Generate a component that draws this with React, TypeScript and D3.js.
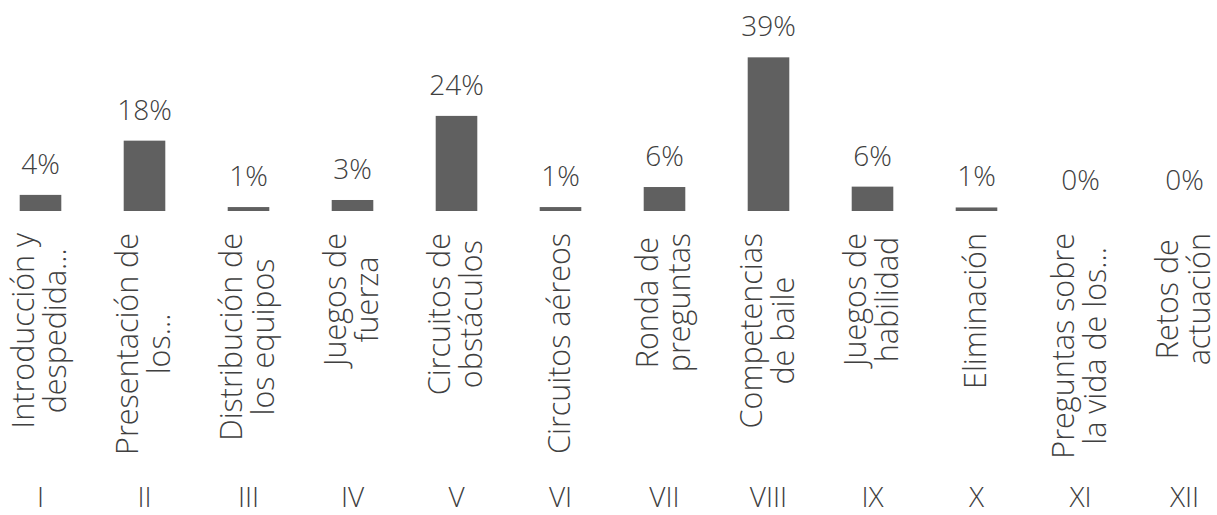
import React from "react";
import * as d3 from "d3";

const romanNumerals = ["I", "II", "III", "IV", "V", "VI", "VII", "VIII", "IX", "X", "XI", "XII"];
const categoryLines: string[][] = [
  ["Introducción y", "despedida..."],
  ["Presentación de", "los..."],
  ["Distribución de", "los equipos"],
  ["Juegos de", "fuerza"],
  ["Circuitos de", "obstáculos"],
  ["Circuitos aéreos"],
  ["Ronda de", "preguntas"],
  ["Competencias", "de baile"],
  ["Juegos de", "habilidad"],
  ["Eliminación"],
  ["Preguntas sobre", "la vida de los..."],
  ["Retos de", "actuación"],
];
const percentValues = [4.1, 17.9, 1.0, 2.8, 24.2, 1.0, 6.1, 39.1, 6.2, 0.9, 0, 0];

const W = 1217;
const H = 515;
const FONT = "'Open Sans', 'DejaVu Sans', sans-serif";
const FS_CAT = 30.5;
const FS_VAL = 28;
const FS_NUM = 28;
const WEIGHT = 300;
const TEXT = "#404040";
const BAR = "#606060";

function measure(s: string): number {
  const c = document.createElement("canvas");
  const ctx = c.getContext("2d")!;
  ctx.font = `${WEIGHT} ${FS_CAT}px ${FONT}`;
  return ctx.measureText(s).width;
}

export default function App() {
  const idx = romanNumerals.map((_, i) => String(i));
  const x = d3.scaleBand<string>().domain(idx).range([-11.5, 1236.5]).paddingInner(0.6).paddingOuter(0.3);
  const y = d3.scaleLinear().domain([0, 40]).range([211, 211 - 157.2]);
  const fmt = (v: number) => `${Math.round(v)}%`;
  const labelTop = 233;
  const lineGap = 32;

  return (
    <svg width={W} height={H} style={{ position: "absolute", left: 0, top: 0, background: "#fff" }}
      fontFamily={FONT} fontWeight={WEIGHT}>
      {percentValues.map((v, i) => {
        const xb = x(String(i))!;
        const cx = xb + x.bandwidth() / 2;
        const top = y(v);
        return (
          <g key={i}>
            {v > 0 && (
              <rect x={xb} y={top} width={x.bandwidth()} height={y(0) - top} fill={BAR} />
            )}
            <text x={cx} y={top - 21} textAnchor="middle" fontSize={FS_VAL} fill={TEXT}>
              {fmt(v)}
            </text>
          </g>
        );
      })}
      {categoryLines.map((lines, i) => {
        const cx = x(String(i))! + x.bandwidth() / 2;
        const maxW = Math.max(...lines.map(measure));
        const cy = labelTop + maxW / 2;
        const n = lines.length;
        return (
          <g key={i} transform={`translate(${cx},${cy}) rotate(-90)`}>
            {lines.map((ln, j) => (
              <text key={j} x={0} y={9 + (j - (n - 1) / 2) * lineGap} textAnchor="middle" fontSize={FS_CAT} fill={TEXT}>
                {ln}
              </text>
            ))}
          </g>
        );
      })}
      {romanNumerals.map((r, i) => {
        const cx = x(String(i))! + x.bandwidth() / 2;
        return (
          <text key={r} x={cx} y={507} textAnchor="middle" fontSize={FS_NUM} fill={TEXT}>
            {r}
          </text>
        );
      })}
    </svg>
  );
}
